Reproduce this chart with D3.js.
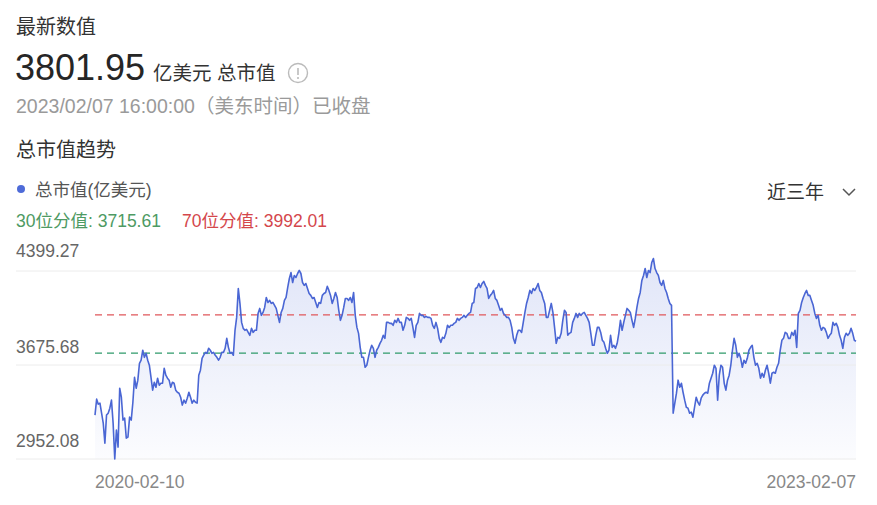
<!DOCTYPE html>
<html>
<head>
<meta charset="utf-8">
<script src="https://cdn.jsdelivr.net/npm/d3@7"></script>
<style>
  html, body { margin: 0; padding: 0; background: #fff; }
  svg { display: block; }
  text { font-family: "Liberation Sans", Arial, "Noto Sans CJK SC", sans-serif; }
</style>
</head>
<body>
<svg id="chart" width="877" height="505"></svg>
<script>
// ---- data ----
const latestValue = "3801.95";
const latestUnit = "亿美元 总市值";
const latestTime = "2023/02/07 16:00:00（美东时间）已收盘";
const seriesName = "总市值(亿美元)";
const p30 = 3715.61;
const p70 = 3992.01;
const rangeLabel = "近三年";
const xTickLabels = ["2020-02-10", "2023-02-07"];
const yTickLabels = ["4399.27", "3675.68", "2952.08"];

const values = [
  // 2020
  3269, 3384, 3348, 3355, 3283, 3211, 3067, 3269, 3283, 3319, 3377, 3211, 2952.08, 3161, 3038, 3463,
  3398, 3233, 3247, 3103, 3110, 3254, 3233, 3362, 3542, 3463, 3521, 3643, 3665, 3737, 3686, 3715,
  3665, 3629, 3542, 3449, 3506, 3470, 3535, 3485, 3499, 3499, 3607, 3557, 3535, 3521, 3470, 3506,
  3499, 3449, 3434, 3427, 3398, 3341, 3377, 3355, 3391, 3434, 3398, 3355, 3377, 3362, 3355, 3557,
  3593, 3679, 3701, 3722, 3715, 3751, 3737, 3715, 3722, 3701, 3686, 3665, 3686, 3722,
  3722, 3751, 3823, 3758, 3715, 3722, 3701, 3881, 3974, 4183, 4075, 3938, 3895, 3881, 3888, 3866,
  3845, 3895, 3866, 3881, 3881, 4003, 4039, 3989, 4010, 4046, 4118, 4082, 4097, 4075, 4082, 4061,
  4039, 3989, 3938, 4010, 4039, 4097, 4118, 4190, 4255, 4298, 4226, 4277, 4262, 4291, 4313, 4291,
  4226, 4205, 4219, 4183, 4147, 4133, 4111, 4118, 4082, 4046, 4082, 4075, 4133, 4147, 4154, 4198,
  4169, 4133, 4075, 4111, 4154, 4118, 4025, 3953, 3989, 4046, 4111,
  // 2021
  4111, 4097, 4118, 4082, 4154, 3989, 3902, 3859, 3758, 3686, 3686, 3614, 3629, 3686, 3737, 3773,
  3751, 3686, 3737, 3758, 3787, 3809, 3845, 3823, 3938, 3938, 3931, 3931, 3917, 3953, 3938, 3967,
  3938, 3938, 3881, 3917, 3974, 3967, 3953, 3967, 3902, 3830, 3917, 3938, 4003, 3989, 3989, 3974,
  3982, 3974, 3974, 3967, 3917, 3895, 3938, 3895, 3823, 3794, 3830, 3823, 3859, 3917, 3902, 3917,
  3917, 3931, 3938, 3967, 3953, 3967, 3974, 3989, 3974, 3989, 4003, 4010, 4075,
  4082, 4183, 4190, 4219, 4190, 4219, 4234, 4205, 4183, 4111, 4133, 4147, 4169, 4111, 4097, 4061,
  4025, 4039, 4003, 3989, 3974, 3974, 3953, 3902, 3823, 3787, 3845, 3881, 3881, 3866, 3938, 4010,
  4075, 4118, 4169, 4147, 4183, 4169, 4190, 4219, 4169, 4154, 4111, 4075, 3974, 3974, 4025, 4075,
  4010, 3902, 3787, 3830, 3823, 3859, 3953, 4025, 4010, 3845, 3859, 3866, 3938, 3967, 4003, 3974,
  4003, 3989, 4003, 4010, 3989, 3967, 3938, 3859, 3773, 3773, 3845, 3902,
  // 2022
  3902, 3866, 3809, 3794, 3751, 3715, 3737, 3845, 3758, 3773, 3751, 3787, 3859, 3953, 3881, 3938,
  3989, 4039, 4025, 4010, 3953, 3902, 3967, 4046, 4111, 4154, 4241, 4277, 4327, 4262, 4313, 4298,
  4370, 4399.27, 4327, 4298, 4277, 4226, 4205, 4241, 4183, 4154, 4111, 4075, 4061, 3283, 3355, 3427,
  3521, 3470, 3499, 3434, 3377, 3326, 3319, 3283, 3290, 3254, 3326, 3398, 3362, 3341, 3391, 3413,
  3427, 3434, 3427, 3499, 3535, 3571, 3629, 3607, 3377, 3557, 3629, 3614,
  3499, 3449, 3521, 3557, 3629, 3737, 3823, 3773, 3686, 3715, 3679, 3614, 3665, 3643, 3679, 3737,
  3758, 3773, 3686, 3629, 3643, 3607, 3535, 3571, 3542, 3593, 3629, 3571, 3499, 3571, 3578, 3571,
  3614, 3643, 3737, 3809, 3823, 3866, 3859, 3823, 3823, 3866, 3845, 3881, 3758, 4003, 4025, 4082,
  4118, 4147, 4169, 4133, 4133, 4097, 4061, 4003, 3967, 3989, 3917, 3881, 3902, 3895, 3866, 3823,
  3845, 3859, 3938, 3917, 3931, 3902, 3845, 3809, 3751, 3830, 3859, 3845, 3859, 3895, 3859, 3809,
  3801.95
];

// ---- chart ----
const svg = d3.select("#chart");
const plotLeft = 95, plotRight = 856;
const gridLeft = 16;

const x = d3.scaleLinear().domain([0, values.length - 1]).range([plotLeft, plotRight]);
const ext = d3.extent(values);
const y = d3.scaleLinear().domain(ext).range([459, 258.5]);
const gridY = d3.scalePoint().domain(yTickLabels).range([271, 459]);

// header
svg.append("text").attr("x", 16).attr("y", 34).attr("font-size", 20).attr("fill", "#333").text("最新数值");
svg.append("text").attr("x", 15).attr("y", 80).attr("font-size", 36).attr("fill", "#262626").text(latestValue);
svg.append("text").attr("x", 153).attr("y", 80).attr("font-size", 19.5).attr("fill", "#333").text(latestUnit);
const info = svg.append("g").attr("transform", "translate(298,73)");
info.append("circle").attr("r", 9.5).attr("fill", "none").attr("stroke", "#bbb").attr("stroke-width", 1.4);
info.append("line").attr("x1", 0).attr("x2", 0).attr("y1", -5).attr("y2", 2).attr("stroke", "#bbb").attr("stroke-width", 1.6);
info.append("circle").attr("cx", 0).attr("cy", 5).attr("r", 1.1).attr("fill", "#bbb");
svg.append("text").attr("x", 16).attr("y", 113).attr("font-size", 19.5).attr("fill", "#9a9a9a").text(latestTime);

svg.append("text").attr("x", 16).attr("y", 157).attr("font-size", 20).attr("fill", "#333").text("总市值趋势");

// legend
svg.append("circle").attr("cx", 21).attr("cy", 189).attr("r", 4).attr("fill", "#4e6bd8");
svg.append("text").attr("x", 35).attr("y", 196).attr("font-size", 17.5).attr("fill", "#555").text(seriesName);
svg.append("text").attr("x", 16).attr("y", 227).attr("font-size", 17.5).attr("fill", "#4e9a63").text("30位分值: " + p30.toFixed(2));
svg.append("text").attr("x", 182).attr("y", 227).attr("font-size", 17.5).attr("fill", "#d4474c").text("70位分值: " + p70.toFixed(2));

// range selector
svg.append("text").attr("x", 767).attr("y", 199).attr("font-size", 19).attr("fill", "#333").text(rangeLabel);
svg.append("path").attr("d", "M843,189 L849,195 L855,189").attr("fill", "none").attr("stroke", "#555").attr("stroke-width", 1.5);

// gradient
const defs = svg.append("defs");
const grad = defs.append("linearGradient").attr("id", "areaGrad")
  .attr("gradientUnits", "userSpaceOnUse").attr("x1", 0).attr("x2", 0).attr("y1", 258).attr("y2", 459);
grad.append("stop").attr("offset", "0%").attr("stop-color", "#5570d8").attr("stop-opacity", 0.18);
grad.append("stop").attr("offset", "100%").attr("stop-color", "#5570d8").attr("stop-opacity", 0.02);

// area
const area = d3.area().x((d, i) => x(i)).y0(459).y1(d => y(d));
svg.append("path").datum(values).attr("d", area).attr("fill", "url(#areaGrad)");

// gridlines
svg.append("g").selectAll("line").data(yTickLabels).join("line")
  .attr("x1", gridLeft).attr("x2", plotRight)
  .attr("y1", d => gridY(d)).attr("y2", d => gridY(d))
  .attr("stroke", "#ececec").attr("stroke-width", 1);

// y labels
svg.append("g").selectAll("text").data(yTickLabels).join("text")
  .attr("x", 16).attr("y", (d, i) => gridY(d) - (i === 0 ? 14 : 12.5))
  .attr("font-size", 17.5).attr("fill", "#666").text(d => d);

// percentile lines
svg.append("line").attr("x1", plotLeft).attr("x2", plotRight).attr("y1", y(p70)).attr("y2", y(p70))
  .attr("stroke", "#e0575b").attr("stroke-width", 1.3).attr("stroke-dasharray", "7,5");
svg.append("line").attr("x1", plotLeft).attr("x2", plotRight).attr("y1", y(p30)).attr("y2", y(p30))
  .attr("stroke", "#2f9a6b").attr("stroke-width", 1.3).attr("stroke-dasharray", "7,5");

// line
const line = d3.line().x((d, i) => x(i)).y(d => y(d));
svg.append("path").datum(values).attr("d", line)
  .attr("fill", "none").attr("stroke", "#4a66d4").attr("stroke-width", 1.6).attr("stroke-linejoin", "round");

// x labels
svg.append("text").attr("x", x(0)).attr("y", 488).attr("font-size", 17.5).attr("fill", "#888")
  .attr("text-anchor", "start").text(xTickLabels[0]);
svg.append("text").attr("x", x(values.length - 1)).attr("y", 488).attr("font-size", 17.5).attr("fill", "#888")
  .attr("text-anchor", "end").text(xTickLabels[1]);
</script>
</body>
</html>
